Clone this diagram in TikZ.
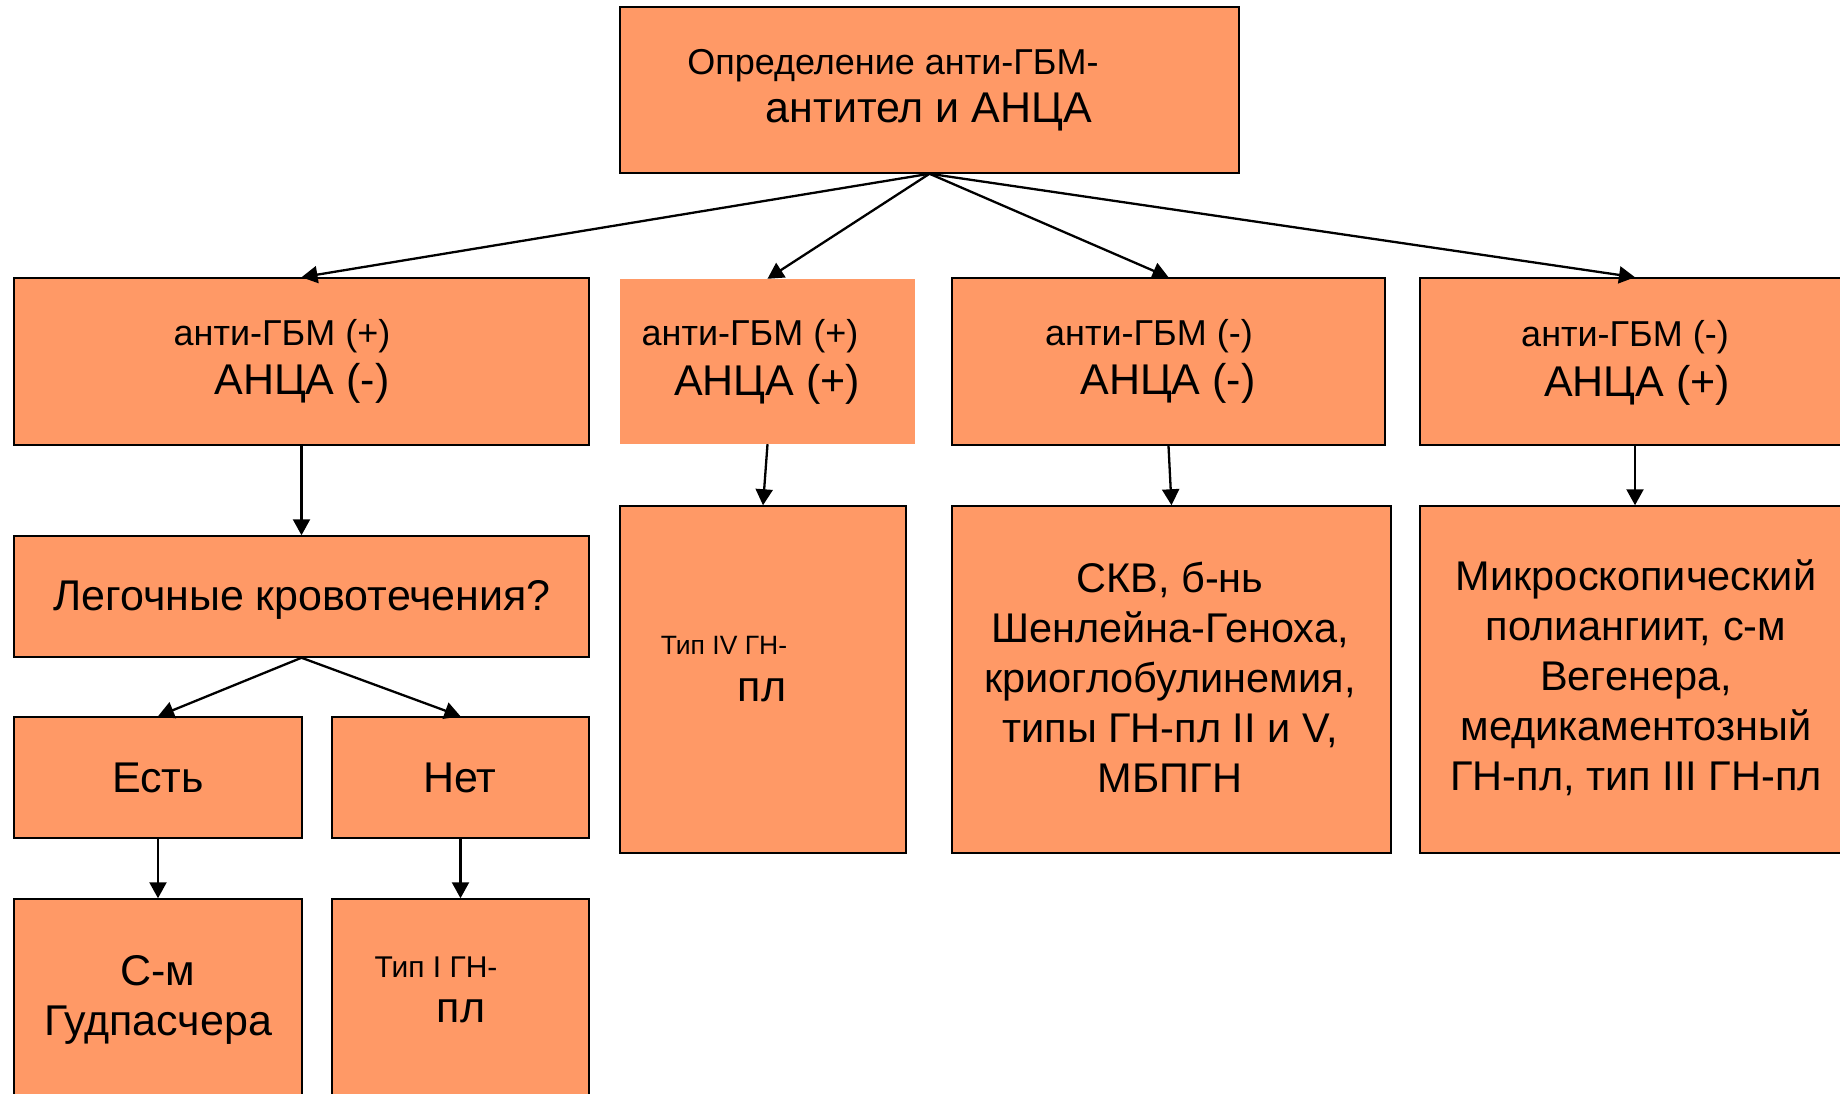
\documentclass[tikz,border=0pt]{standalone}
\usepackage{fontspec}
\setmainfont{Liberation Sans}
\usetikzlibrary{arrows.meta}
\definecolor{boxfill}{HTML}{FF9966}
\begin{document}
\begin{tikzpicture}[x=1pt,y=-1pt,
  box/.style={draw=black,line width=1.5pt,fill=boxfill,inner sep=0pt,rectangle},
  plainbox/.style={fill=boxfill,inner sep=0pt,rectangle},
  big/.style={inner sep=0pt,font=\fontsize{43}{50}\selectfont,align=center},
  multi/.style={inner sep=0pt,font=\fontsize{41.5}{50}\selectfont,align=center},
  mid/.style={inner sep=0pt,font=\fontsize{36}{43}\selectfont},
  small/.style={inner sep=0pt,font=\fontsize{26.5}{31}\selectfont},
  arr/.style={line width=2.3pt,-{Triangle[length=16pt,width=17pt]}}]
\useasboundingbox (0,0) rectangle (1840,1093);
\clip (0,0) rectangle (1840,1093);

% boxes
\node[box,minimum width=619pt,minimum height=166pt] (top) at (929.5,90) {};
\node[box,minimum width=575pt,minimum height=167pt] (b1) at (301.5,361.5) {};
\node[plainbox,minimum width=295pt,minimum height=165pt] (b2) at (767.5,361.5) {};
\node[box,minimum width=433pt,minimum height=167pt] (b3) at (1168.5,361.5) {};
\node[box,minimum width=430pt,minimum height=167pt] (b4) at (1635,361.5) {};
\node[box,minimum width=575pt,minimum height=121pt] (lego) at (301.5,596.5) {};
\node[box,minimum width=286pt,minimum height=347pt] (b2c) at (763,679.5) {};
\node[box,minimum width=439pt,minimum height=347pt] (b3c) at (1171.5,679.5) {};
\node[box,minimum width=430pt,minimum height=347pt] (b4c) at (1635,679.5) {};
\node[box,minimum width=288pt,minimum height=121pt] (est) at (158,777.5) {};
\node[box,minimum width=257pt,minimum height=121pt] (net) at (460.5,777.5) {};
\node[box,minimum width=288pt,minimum height=211pt] (gud) at (158,1004.5) {};
\node[box,minimum width=257pt,minimum height=211pt] (tip1) at (460.5,1004.5) {};

% texts
\node[mid] (t0a) at (893,66) {Определение анти-ГБМ-};
\node[big] (t0b) at (929,112) {антител и АНЦА};
\node[mid] (t1a) at (282,336) {анти-ГБМ (+)};
\node[big] (t1b) at (302,383) {АНЦА (-)};
\node[mid] (t2a) at (750,336) {анти-ГБМ (+)};
\node[big] (t2b) at (767,384) {АНЦА (+)};
\node[mid] (t3a) at (1149,336) {анти-ГБМ (-)};
\node[big] (t3b) at (1168,383) {АНЦА (-)};
\node[mid] (t4a) at (1625,337) {анти-ГБМ (-)};
\node[big] (t4b) at (1637,385) {АНЦА (+)};
\node[big] (tlego) at (302,600) {Легочные кровотечения?};
\node[small] (t2ca) at (724,645) {Тип IV ГН-};
\node[big] (t2cb) at (762,690) {пл};
\node[multi] (t3c) at (1170,677) {СКВ, б-нь\\Шенлейна-Геноха,\\криоглобулинемия,\\типы ГН-пл II и V,\\МБПГН};
\node[multi] (t4c) at (1636,678) {Микроскопический\\полиангиит, с-м\\Вегенера,\\медикаментозный\\ГН-пл, тип III ГН-пл};
\node[big] (test) at (158,778) {Есть};
\node[big] (tnet) at (460,778) {Нет};
\node[big] (tgud) at (158,1000) {С-м\\Гудпасчера};
\node[small,font=\fontsize{30}{36}\selectfont] (t5a) at (436,967) {Тип I ГН-};
\node[big] (t5b) at (461,1011) {пл};

% connectors
\draw[arr] (top.south) -- (b1.north);
\draw[arr] (top.south) -- (b2.north);
\draw[arr] (top.south) -- (b3.north);
\draw[arr] (top.south) -- (b4.north);
\draw[arr] (b1.south) -- (lego.north);
\draw[arr] (b2.south) -- (b2c.north);
\draw[arr] (b3.south) -- (b3c.north);
\draw[arr] (b4.south) -- (b4c.north);
\draw[arr] (lego.south) -- (est.north);
\draw[arr] (lego.south) -- (net.north);
\draw[arr] (est.south) -- (gud.north);
\draw[arr] (net.south) -- (tip1.north);
\end{tikzpicture}
\end{document}
